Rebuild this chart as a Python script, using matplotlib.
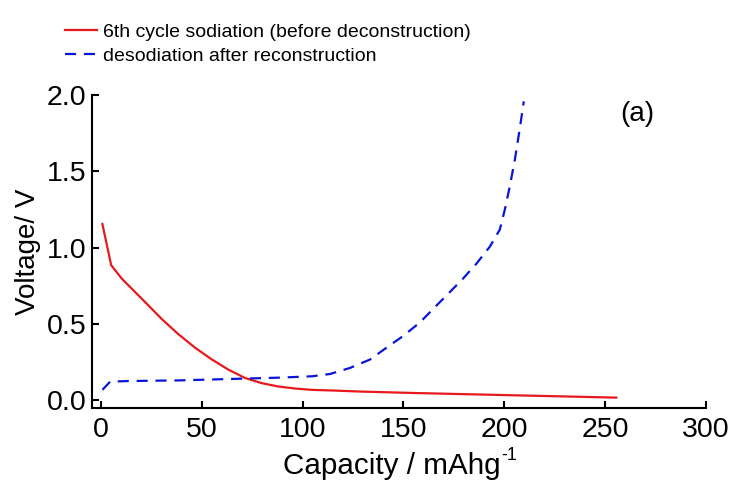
import matplotlib
matplotlib.use('Agg')
import matplotlib.pyplot as plt

plt.rcParams['font.family'] = ['Liberation Sans', 'DejaVu Sans']

# 6th cycle sodiation (before deconstruction)
sod_cap = [0.65, 5.0, 10.2, 16.9, 23.5, 30.1, 38.3, 46.6, 54.9, 63.1, 71.4, 79.7,
           87.9, 96.2, 104.5, 114.4, 128.4, 156.5, 206.0, 255.6]
sod_volt = [1.155, 0.885, 0.797, 0.708, 0.62, 0.531, 0.432, 0.343, 0.266, 0.199,
            0.144, 0.11, 0.088, 0.075, 0.066, 0.062, 0.055, 0.045, 0.03, 0.015]

# desodiation after reconstruction
desod_cap = [0.65, 4.5, 13.5, 38.3, 63.1, 87.9, 104.5, 113.5, 123.5, 133.4, 141.6,
             149.9, 158.2, 164.8, 173.0, 179.6, 186.3, 192.9, 197.8, 200.3, 202.8,
             205.3, 207.7, 209.7]
desod_volt = [0.066, 0.12, 0.124, 0.128, 0.137, 0.146, 0.155, 0.17, 0.21, 0.265,
              0.343, 0.42, 0.509, 0.598, 0.708, 0.797, 0.896, 1.007, 1.118, 1.25,
              1.405, 1.58, 1.78, 1.96]

x_ticks = [0, 50, 100, 150, 200, 250, 300]
y_ticks = [0.0, 0.5, 1.0, 1.5, 2.0]

fig = plt.figure(figsize=(7.36, 4.91), dpi=100)
ax = fig.add_axes([0.125, 0.170, 0.834, 0.636])

l1, = ax.plot(sod_cap, sod_volt, color='#e8191c', lw=1.6,
              label='6th cycle sodiation (before deconstruction)')
l2, = ax.plot(desod_cap, desod_volt, color='#0a14d8', lw=1.6, dashes=(5, 3.5),
              label='desodiation after reconstruction')

ax.set_xlim(-4.5, 300)
ax.set_ylim(-0.05, 2.0)
ax.set_xticks(x_ticks)
ax.set_yticks(y_ticks)
ax.set_yticklabels(['%.1f' % v for v in y_ticks])

for s in ['top', 'right']:
    ax.spines[s].set_visible(False)
for s in ['left', 'bottom']:
    ax.spines[s].set_linewidth(1.5)

ax.tick_params(direction='in', length=5, width=1.5, labelsize=20.5)
ax.tick_params(axis='x', pad=7)
ax.tick_params(axis='y', pad=4)

ax.set_ylabel('Voltage/ V', fontsize=20, labelpad=4)
# x label with a hyphen superscript, like the original
fig.text(283 / 736, 1 - 466 / 491, 'Capacity / mAhg', fontsize=21.3, ha='left', va='center')
fig.text(501 / 736, 1 - 455 / 491, '-1', fontsize=13, ha='left', va='center')

ax.text(266, 1.88, '(a)', fontsize=20, ha='center', va='center')

fig.legend(handles=[l1, l2], loc='upper left', bbox_to_anchor=(65 / 736, 1 - 23 / 491),
           frameon=False, fontsize=14,
           handlelength=1.65, handletextpad=0.31, labelspacing=0.35,
           borderpad=0, borderaxespad=0)

fig.savefig('out.png', dpi=100)
